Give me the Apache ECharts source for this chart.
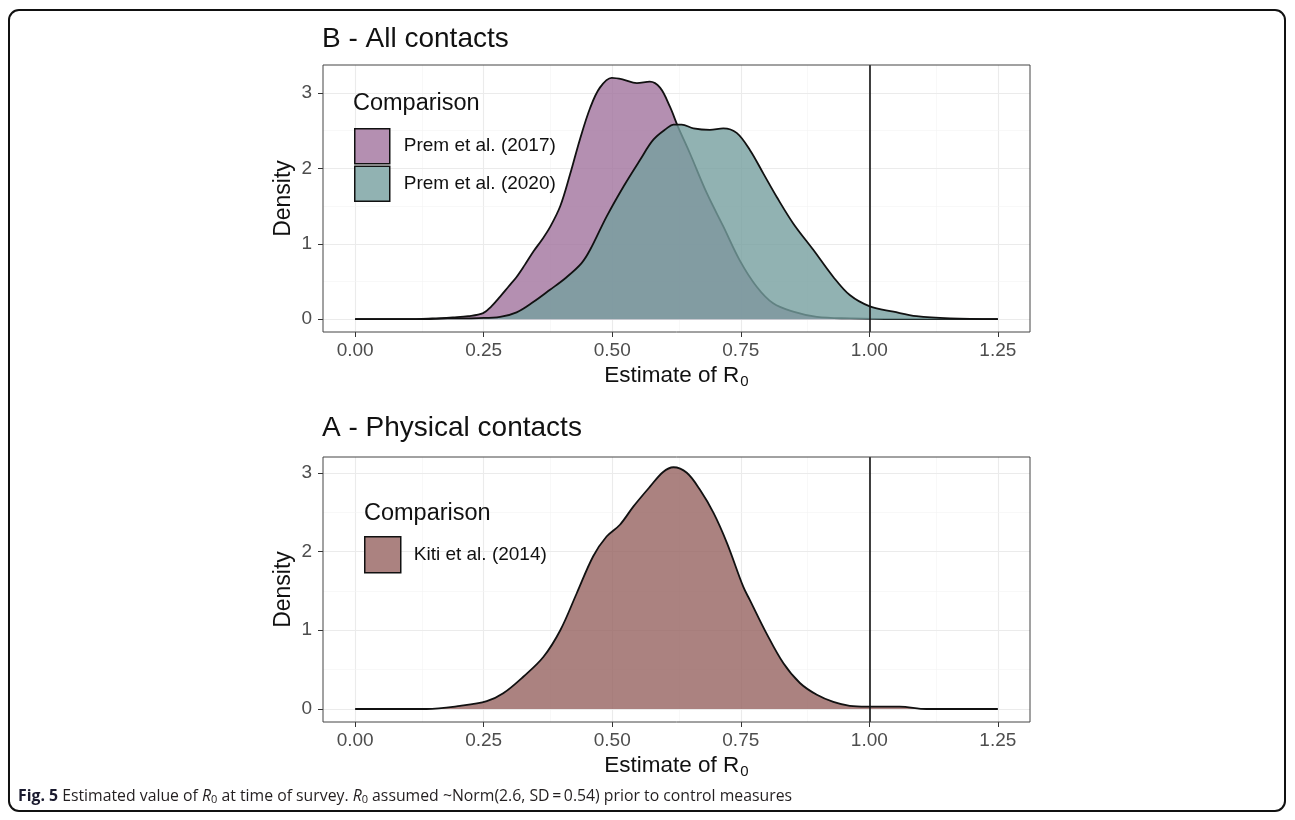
<!DOCTYPE html>
<html>
<head>
<meta charset="utf-8">
<script src="https://cdn.jsdelivr.net/npm/echarts@6/dist/echarts.min.js"></script>
<style>
html,body{margin:0;padding:0;background:#fff;}
#chart{width:1295px;height:820px;}
</style>
</head>
<body>
<div id="chart"></div>
<script>
// ---- data ----
const xTicks = [0, 0.25, 0.5, 0.75, 1.0, 1.25];
const xMinor = [0.125, 0.375, 0.625, 0.875, 1.125];
const yTicks = [0, 1, 2, 3];
const yMinor = [0.5, 1.5, 2.5];
const thresholdR0 = 1.0;

const panelTitles = ['B - All contacts', 'A - Physical contacts'];
const legendTitle = 'Comparison';
const seriesNames = ['Prem et al. (2017)', 'Prem et al. (2020)', 'Kiti et al. (2014)'];

// Prem et al. (2017): [R0 estimate, density]
const prem2017 = [[0,0],[0.10,0],[0.15,0.01],[0.19,0.025],[0.22,0.04],[0.249,0.08],[0.265,0.17],[0.282,0.30],[0.298,0.43],[0.314,0.56],[0.33,0.72],[0.347,0.90],[0.363,1.05],[0.379,1.22],[0.399,1.50],[0.418,1.92],[0.437,2.38],[0.457,2.80],[0.476,3.07],[0.499,3.20],[0.52,3.18],[0.548,3.13],[0.573,3.15],[0.593,3.07],[0.612,2.82],[0.628,2.55],[0.651,2.20],[0.684,1.67],[0.716,1.23],[0.748,0.78],[0.781,0.43],[0.813,0.21],[0.852,0.10],[0.898,0.03],[0.962,0.01],[1.05,0],[1.25,0]];

// Prem et al. (2020)
const prem2020 = [[0,0],[0.12,0],[0.18,0.01],[0.24,0.015],[0.282,0.03],[0.314,0.09],[0.347,0.23],[0.379,0.39],[0.41,0.55],[0.44,0.74],[0.457,0.92],[0.489,1.36],[0.522,1.76],[0.554,2.11],[0.58,2.38],[0.606,2.53],[0.619,2.58],[0.635,2.58],[0.658,2.53],[0.69,2.51],[0.716,2.53],[0.742,2.47],[0.768,2.24],[0.794,1.93],[0.82,1.62],[0.852,1.27],[0.891,0.92],[0.93,0.56],[0.962,0.32],[1.001,0.17],[1.047,0.10],[1.092,0.04],[1.157,0.01],[1.25,0]];

// Kiti et al. (2014)
const kiti2014 = [[0,0],[0.139,0],[0.204,0.04],[0.256,0.10],[0.288,0.20],[0.327,0.41],[0.366,0.66],[0.399,1.00],[0.431,1.47],[0.463,1.94],[0.489,2.19],[0.515,2.34],[0.541,2.57],[0.573,2.82],[0.599,3.01],[0.619,3.07],[0.645,3.00],[0.671,2.78],[0.697,2.49],[0.723,2.11],[0.755,1.55],[0.768,1.38],[0.80,0.96],[0.833,0.58],[0.865,0.33],[0.898,0.18],[0.93,0.09],[0.962,0.04],[0.995,0.03],[1.059,0.03],[1.111,0],[1.25,0]];

// ---- styles ----
const FONT = '"Liberation Sans", Arial, sans-serif';
const CAPFONT = '"Open Sans", sans-serif';
const fill2017 = 'rgba(161,115,158,0.8)';
const fill2020 = 'rgba(118,159,159,0.8)';
const fillKiti = 'rgba(150,99,96,0.8)';
const legend2017 = 'rgb(180,143,177)';
const legend2020 = 'rgb(145,178,178)';
const legendKiti = 'rgb(171,130,128)';

function gridLines(xi) {
  const major = {color:'#ebebeb', width:1.1, type:'solid'};
  const minor = {color:'#f3f3f3', width:0.6, type:'solid'};
  const data = [];
  xTicks.forEach(v => data.push({xAxis:v, lineStyle:major}));
  xMinor.forEach(v => data.push({xAxis:v, lineStyle:minor}));
  yTicks.forEach(v => data.push({yAxis:v, lineStyle:major}));
  yMinor.forEach(v => data.push({yAxis:v, lineStyle:minor}));
  return {
    type:'line', xAxisIndex:xi, yAxisIndex:xi, data:[[0,0]], z:0,
    showSymbol:false, symbol:'none', lineStyle:{opacity:0}, silent:true, animation:false,
    tooltip:{show:false}, legendHoverLink:false,
    markLine:{z:0, silent:true, symbol:['none','none'], label:{show:false}, animation:false, data:data}
  };
}
function vline(xi) {
  return {
    type:'line', xAxisIndex:xi, yAxisIndex:xi, data:[[0,0]], z:6,
    showSymbol:false, symbol:'none', lineStyle:{opacity:0}, silent:true, animation:false,
    markLine:{z:6, silent:true, symbol:['none','none'], label:{show:false}, animation:false,
      data:[{xAxis:thresholdR0, lineStyle:{color:'#111', width:1.6, type:'solid'}}]}
  };
}
function density(name, data, xi, fill, legendColor, z) {
  return {
    name:name, type:'line', xAxisIndex:xi, yAxisIndex:xi, data:data, z:z,
    smooth:0.35, showSymbol:false, symbol:'none', animation:false,
    itemStyle:{color:legendColor},
    lineStyle:{color:'#111', width:1.8},
    areaStyle:{color:fill, opacity:1}
  };
}
function xAxis(gi) {
  return {
    type:'value', gridIndex:gi, min:-0.0625, max:1.3125,
    axisLine:{show:false, onZero:false},
    axisTick:{show:true, length:5, lineStyle:{color:'#333', width:1}, customValues:xTicks},
    axisLabel:{customValues:xTicks, formatter:v => v.toFixed(2), color:'#4d4d4d', fontSize:19, fontFamily:FONT, margin:9},
    splitLine:{show:false},
    name:'Estimate of R{s|0}', nameLocation:'middle', nameGap:31, nameMoveOverlap:false,
    nameTextStyle:{color:'#111', fontSize:22.5, fontFamily:FONT,
      rich:{s:{fontSize:15, fontFamily:FONT, color:'#111', verticalAlign:'bottom', padding:[11,0,0,1]}}}
  };
}
function yAxis(gi, min, max) {
  return {
    type:'value', gridIndex:gi, min:min, max:max,
    axisLine:{show:false, onZero:false},
    axisTick:{show:true, length:5, lineStyle:{color:'#333', width:1}, customValues:yTicks},
    axisLabel:{customValues:yTicks, formatter:v => String(v), color:'#4d4d4d', fontSize:19, fontFamily:FONT, margin:11},
    splitLine:{show:false},
    name:'Density', nameLocation:'middle', nameGap:28, nameMoveOverlap:false,
    nameTextStyle:{color:'#111', fontSize:23, fontFamily:FONT}
  };
}

const chart = echarts.init(document.getElementById('chart'), null, {renderer:'canvas'});
chart.setOption({
  backgroundColor:'#fff',
  animation:false,
  textStyle:{fontFamily:FONT},
  title:[
    {text:panelTitles[0], left:322, top:25, padding:0, textStyle:{fontSize:28, fontWeight:'normal', color:'#111', fontFamily:FONT}},
    {text:panelTitles[1], left:322, top:414, padding:0, textStyle:{fontSize:28, fontWeight:'normal', color:'#111', fontFamily:FONT}},
    {text:legendTitle, left:353, top:92, padding:0, textStyle:{fontSize:23.5, fontWeight:'normal', color:'#111', fontFamily:FONT}},
    {text:legendTitle, left:364, top:502, padding:0, textStyle:{fontSize:23.5, fontWeight:'normal', color:'#111', fontFamily:FONT}},
    {text:'{b|Fig. 5} Estimated value of {i|R}{s|0} at time of survey. {i|R}{s|0} assumed ~Norm(2.6, SD\u2009=\u20090.54) prior to control measures',
     left:18, top:787, padding:0,
     textStyle:{fontSize:15.8, fontWeight:'normal', color:'#231f20', fontFamily:CAPFONT,
       rich:{
         b:{fontWeight:'bold', fontSize:15.8, color:'#1a1a2e', fontFamily:CAPFONT},
         i:{fontStyle:'italic', fontSize:15.8, color:'#231f20', fontFamily:CAPFONT},
         s:{fontSize:11, color:'#231f20', fontFamily:CAPFONT, verticalAlign:'bottom', padding:[7,0,0,0]}
       }}}
  ],
  legend:[
    {orient:'vertical', left:354, top:128, padding:0, itemWidth:35, itemHeight:35, itemGap:1, icon:'rect',
     data:[
       {name:seriesNames[0], itemStyle:{color:legend2017, borderColor:'#111', borderWidth:1.5}},
       {name:seriesNames[1], itemStyle:{color:legend2020, borderColor:'#111', borderWidth:1.5}}
     ],
     textStyle:{fontSize:19, color:'#111', fontFamily:FONT, padding:[0,0,0,9]}, selectedMode:false},
    {orient:'vertical', left:364, top:536, padding:0, itemWidth:36, itemHeight:36, itemGap:1, icon:'rect',
     data:[{name:seriesNames[2], itemStyle:{color:legendKiti, borderColor:'#111', borderWidth:1.5}}],
     textStyle:{fontSize:19, color:'#111', fontFamily:FONT, padding:[0,0,0,8]}, selectedMode:false}
  ],
  grid:[
    {left:323, top:65, width:707, height:267, show:true, borderColor:'#444', borderWidth:1, backgroundColor:'transparent', z:10},
    {left:323, top:457, width:707, height:265, show:true, borderColor:'#444', borderWidth:1, backgroundColor:'transparent', z:10}
  ],
  xAxis:[xAxis(0), xAxis(1)],
  yAxis:[yAxis(0, -0.17, 3.37), yAxis(1, -0.165, 3.20)],
  series:[
    gridLines(0),
    gridLines(1),
    density(seriesNames[0], prem2017, 0, fill2017, legend2017, 2),
    density(seriesNames[1], prem2020, 0, fill2020, legend2020, 3),
    density(seriesNames[2], kiti2014, 1, fillKiti, legendKiti, 2),
    vline(0),
    vline(1)
  ],
  graphic:[
    {type:'rect', shape:{x:9, y:10, width:1276, height:801, r:10}, style:{fill:'none', stroke:'#111', lineWidth:2}, silent:true, z:100}
  ]
});
</script>
</body>
</html>
